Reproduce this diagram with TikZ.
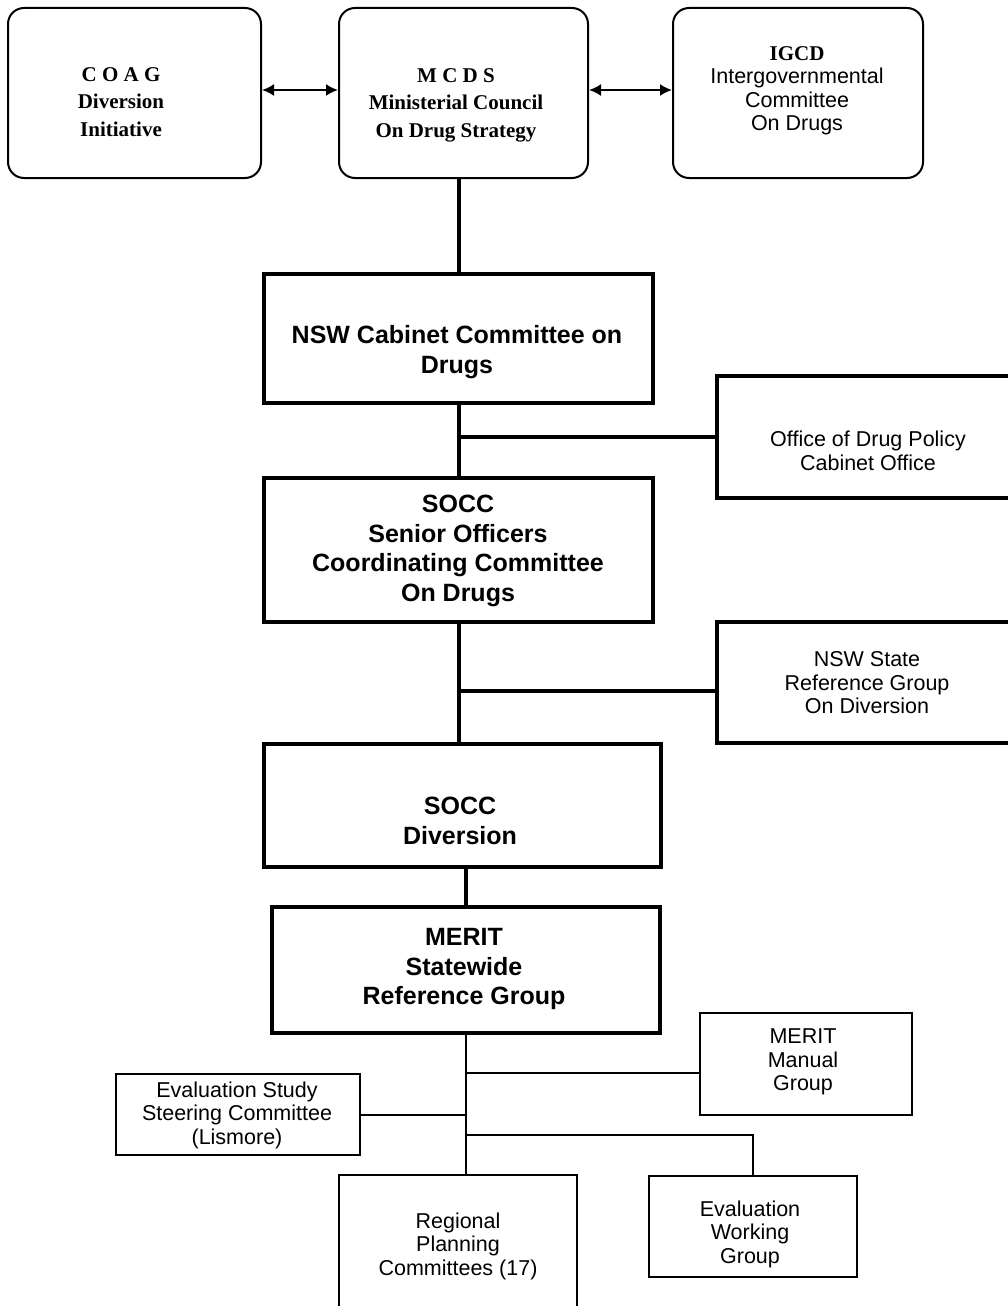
\documentclass[tikz,border=0pt]{standalone}
\usepackage{fontspec}
\setmainfont{Liberation Sans}
\newfontfamily\serifbold{Liberation Serif}[BoldFont={Liberation Serif Bold}]
\usetikzlibrary{arrows.meta}
\newcommand\fBig{\fontsize{25}{29.5}\selectfont\bfseries}
\newcommand\fReg{\fontsize{21.5}{23.5}\selectfont}
\newcommand\fSer{\serifbold\fontsize{21}{27.5}\selectfont\bfseries}
\begin{document}
\begin{tikzpicture}[x=1pt,y=-1pt,
  roundbox/.style={draw, line width=2pt, rounded corners=16pt, minimum width=#1, inner sep=0pt, minimum height=170pt},
  heavybox/.style={draw, line width=4pt, inner sep=0pt},
  lightbox/.style={draw, line width=2pt, inner sep=0pt},
  heavyline/.style={line width=4pt},
  lightline/.style={line width=2pt},
  twoway/.style={line width=2pt, {Latex[length=12pt,width=12pt]}-{Latex[length=12pt,width=12pt]}},
  txt/.style={align=center, inner sep=0pt},
  bigtxt/.style={txt, font=\fBig},
  regtxt/.style={txt, font=\fReg},
  sertxt/.style={txt, font=\fSer}]
\useasboundingbox (0,0) rectangle (1008,1306);
\clip (0,0) rectangle (1008,1306);
% top row
\node[roundbox=253pt] (coag) at (134.5,93) {};
\node[roundbox=249pt] (mcds) at (463.5,93) {};
\node[roundbox=250pt] (igcd) at (798,93) {};
\node[sertxt] (coagt) at (121,102) {C O A G\\ Diversion\\ Initiative};
\node[sertxt] (mcdst) at (456,105) {M C D S\\ Ministerial Council\\ On Drug Strategy};
\node[regtxt] (igcdt) at (797,91) {{\fSer IGCD}\\ Intergovernmental\\ Committee\\ On Drugs};
\draw[twoway] ([yshift=3pt]coag.east) -- ([yshift=3pt]mcds.west);
\draw[twoway] ([yshift=3pt]mcds.east) -- ([yshift=3pt]igcd.west);
% middle chain
\node[heavybox, minimum width=389pt, minimum height=129pt] (cab) at (458.5,338.5) {};
\node[bigtxt] (cabt) at (457,352) {NSW Cabinet Committee on\\ Drugs};
\node[heavybox, minimum width=313pt, minimum height=122pt] (odp) at (873.5,437) {};
\node[regtxt] (odpt) at (868,451) {Office of Drug Policy\\ Cabinet Office};
\node[heavybox, minimum width=389pt, minimum height=144pt] (socc) at (458.5,550) {};
\node[bigtxt] (socct) at (458,551) {SOCC\\ Senior Officers\\ Coordinating Committee\\ On Drugs};
\node[heavybox, minimum width=313pt, minimum height=121pt] (nswr) at (873.5,682.5) {};
\node[regtxt] (nswrt) at (867,683) {NSW State\\ Reference Group\\ On Diversion};
\node[heavybox, minimum width=397pt, minimum height=123pt] (div) at (462.5,805.5) {};
\node[bigtxt] (divt) at (460,821) {SOCC\\ Diversion};
\node[heavybox, minimum width=388pt, minimum height=126pt] (merit) at (466,970) {};
\node[bigtxt] (meritt) at (464,969) {MERIT\\ Statewide\\ Reference Group};
\draw[heavyline] (cab.north) -- (cab.north |- mcds.south);
\draw[heavyline] (cab.south) -- (socc.north);
\coordinate (j1) at (458.5,437);
\draw[heavyline] (j1) -- (odp.west);
\draw[heavyline] (socc.south) -- (socc.south |- div.north);
\coordinate (j2) at (458.5,691);
\draw[heavyline] (j2) -- (j2 -| nswr.west);
\draw[heavyline] (merit.north) -- (merit.north |- div.south);
% bottom tree
\node[lightbox, minimum width=212pt, minimum height=102pt] (manual) at (806,1064) {};
\node[regtxt] (manualt) at (803,1062) {MERIT\\ Manual\\ Group};
\node[lightbox, minimum width=244pt, minimum height=81pt] (study) at (238,1114.5) {};
\node[regtxt] (studyt) at (237,1115) {Evaluation Study\\ Steering Committee\\ (Lismore)};
\node[lightbox, minimum width=208pt, minimum height=101pt] (work) at (753,1226.5) {};
\node[regtxt] (workt) at (750,1234) {Evaluation\\ Working\\ Group};
\node[lightbox, minimum width=238pt, minimum height=140pt] (reg) at (458,1245) {};
\node[regtxt] (regt) at (458,1246) {Regional\\ Planning\\ Committees (17)};
\coordinate (j3) at (466,1073);
\coordinate (j4) at (466,1115);
\coordinate (j5) at (466,1135);
\draw[lightline] (merit.south) -- (merit.south |- reg.north);
\draw[lightline] (j3) -- (j3 -| manual.west);
\draw[lightline] (j4) -- (j4 -| study.east);
\draw[lightline] (j5) -- (j5 -| work.north) -- (work.north);
\end{tikzpicture}
\end{document}
